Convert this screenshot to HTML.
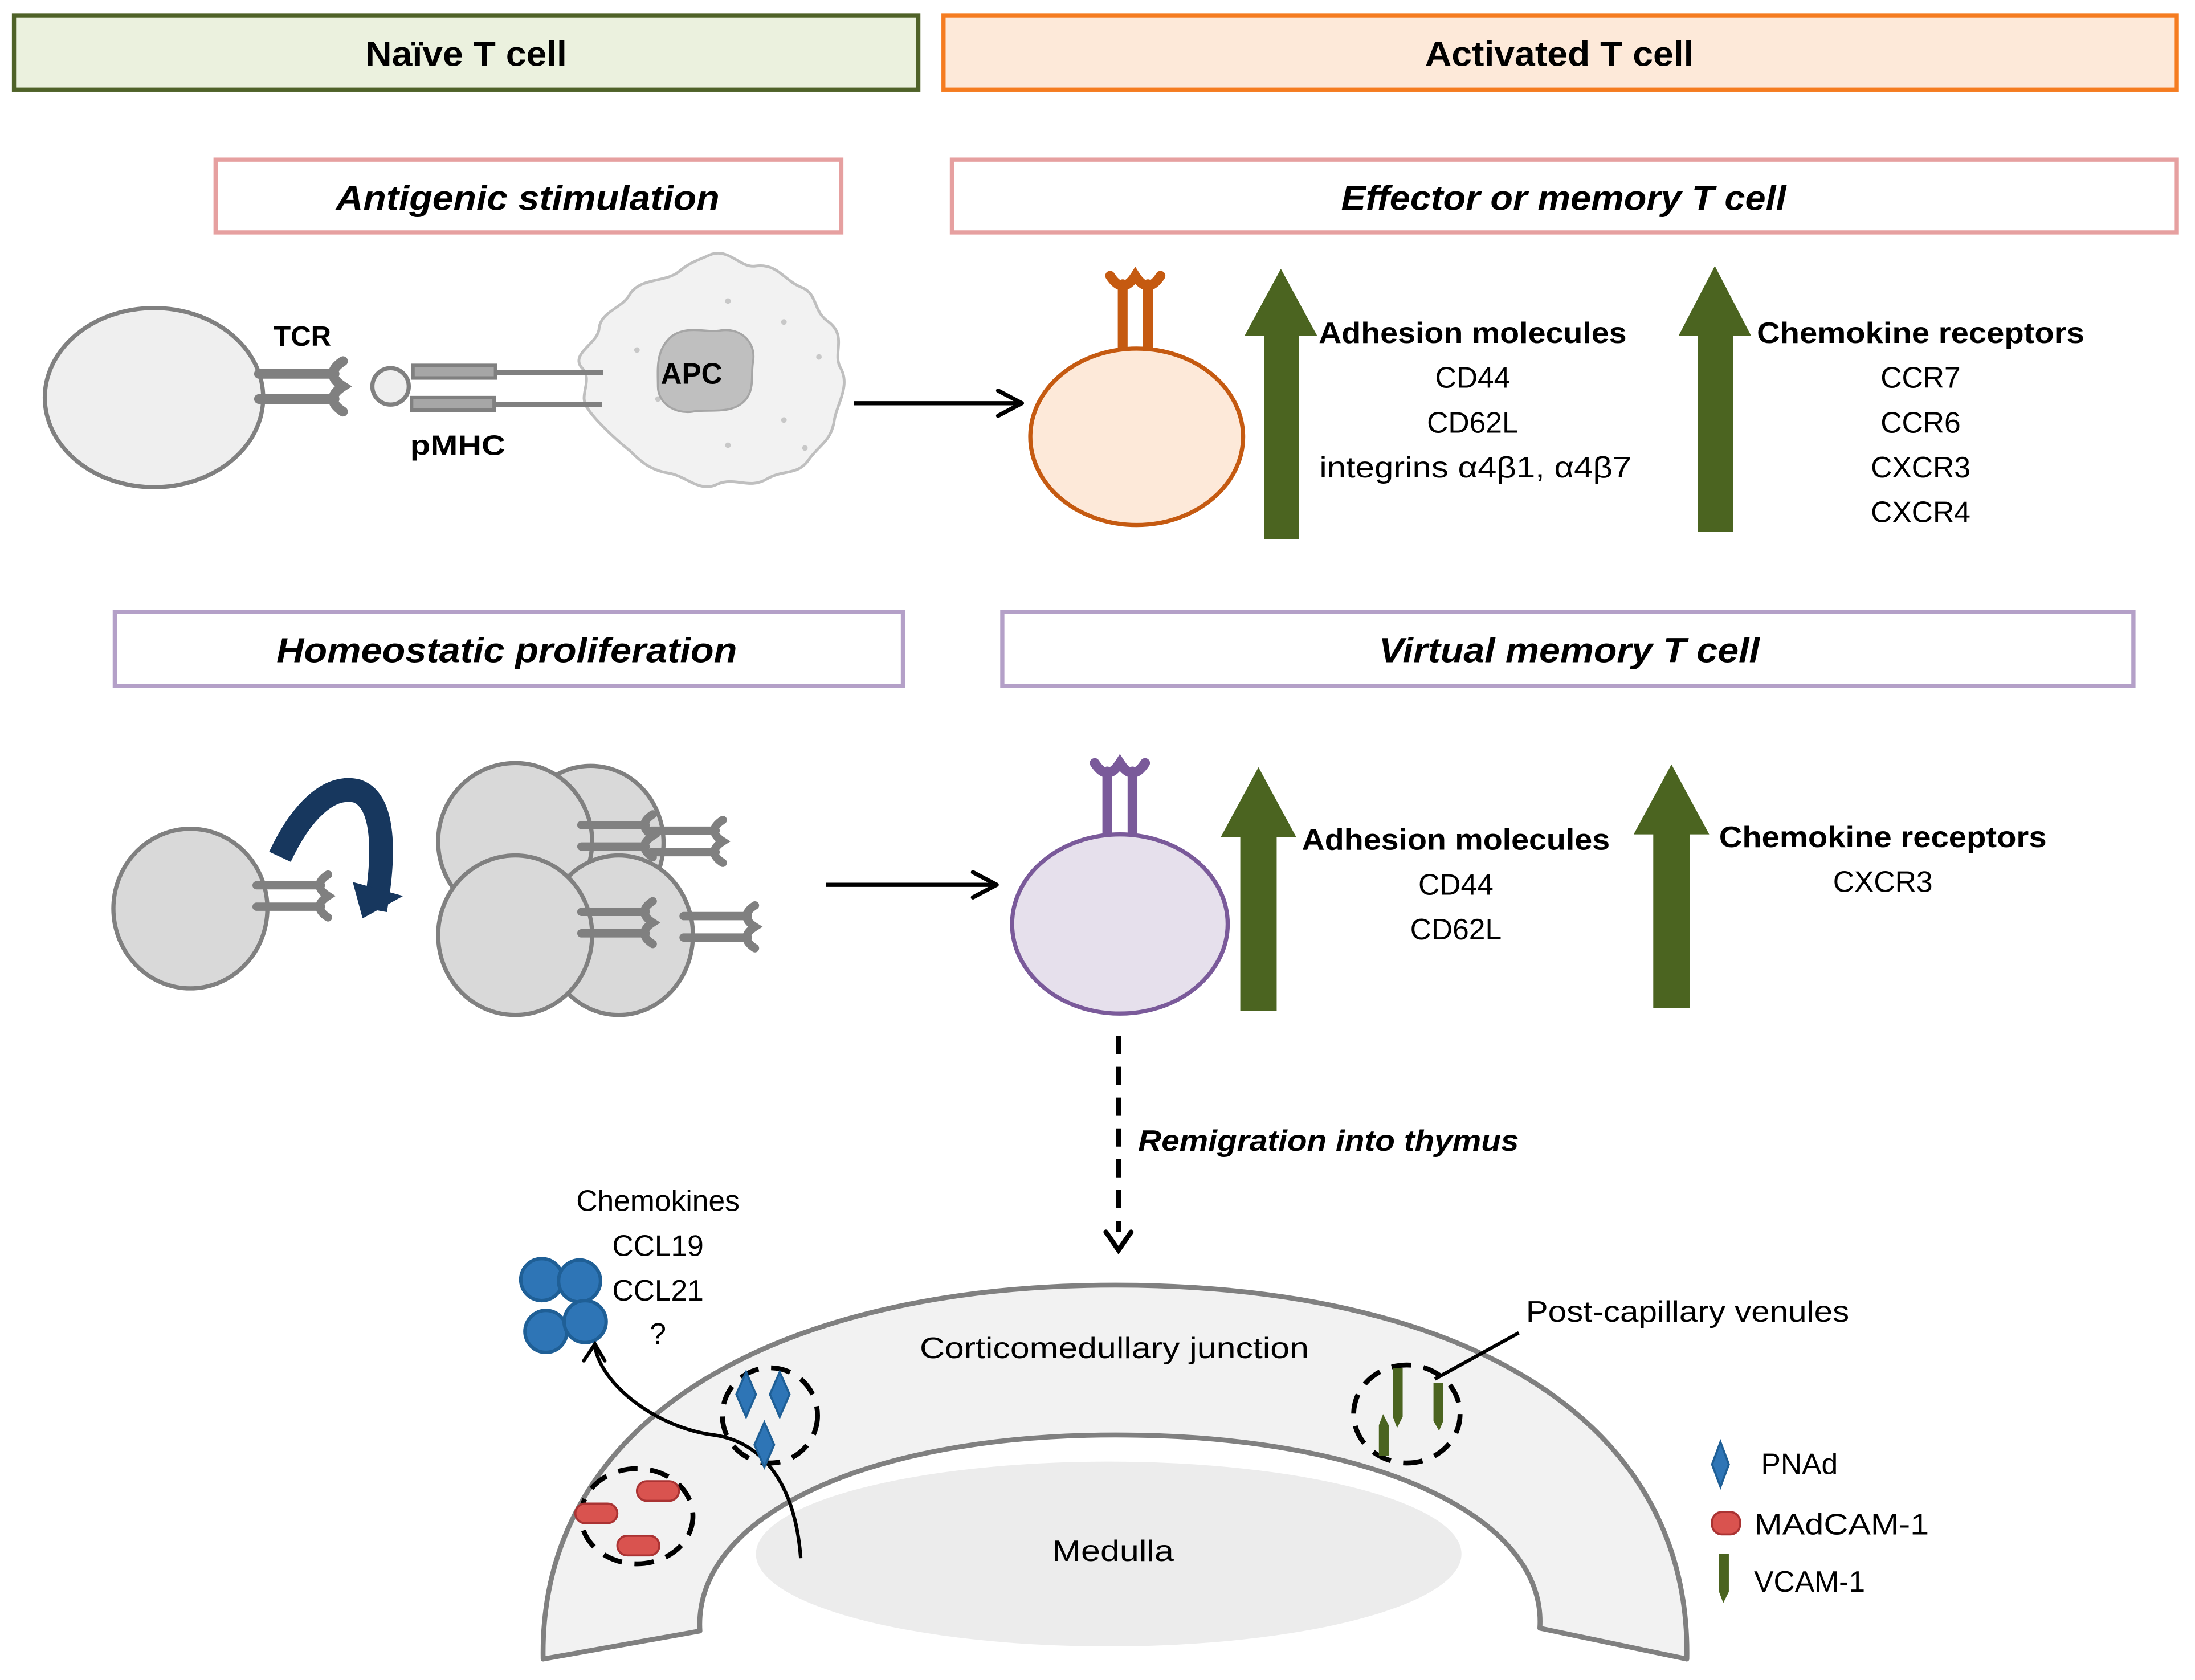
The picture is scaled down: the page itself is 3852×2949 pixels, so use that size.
<!DOCTYPE html>
<html><head><meta charset="utf-8"><style>
html,body{margin:0;padding:0;background:#fff}
svg{display:block}
text{font-family:"Liberation Sans",sans-serif;fill:#000}
.b{font-weight:bold}
.bi{font-weight:bold;font-style:italic}
</style></head><body>
<svg width="3852" height="2949" viewBox="0 0 1568 1200" preserveAspectRatio="none" xmlns="http://www.w3.org/2000/svg">
<defs>
<g id="rc">
 <path d="M-9 8 L-9 62 M9 8 L9 62" stroke-width="7" stroke-linecap="round" fill="none"/>
 <path d="M-18 2 Q-9 16 0 2 Q9 16 18 2" stroke-width="7" stroke-linecap="round" fill="none"/>
</g>
</defs>

<rect x="10" y="11" width="646" height="53" fill="#ebf1de" stroke="#4f6228" stroke-width="3"/>
<text x="333" y="47" text-anchor="middle" class="b" font-size="25" textLength="144" lengthAdjust="spacingAndGlyphs">Naïve T cell</text>
<rect x="674" y="11" width="881" height="53" fill="#fde9d9" stroke="#f57c20" stroke-width="3"/>
<text x="1114" y="47" text-anchor="middle" class="b" font-size="25" textLength="192" lengthAdjust="spacingAndGlyphs">Activated T cell</text>

<rect x="154" y="114" width="447" height="52" fill="#fff" stroke="#e6a0a0" stroke-width="3"/>
<text x="377" y="150" text-anchor="middle" class="bi" font-size="25" textLength="274" lengthAdjust="spacingAndGlyphs">Antigenic stimulation</text>
<rect x="680" y="114" width="875" height="52" fill="#fff" stroke="#e6a0a0" stroke-width="3"/>
<text x="1117" y="150" text-anchor="middle" class="bi" font-size="25" textLength="318" lengthAdjust="spacingAndGlyphs">Effector or memory T cell</text>

<rect x="82" y="437" width="563" height="53" fill="#fff" stroke="#b4a0c8" stroke-width="3"/>
<text x="362" y="473" text-anchor="middle" class="bi" font-size="25" textLength="329" lengthAdjust="spacingAndGlyphs">Homeostatic proliferation</text>
<rect x="716" y="437" width="808" height="53" fill="#fff" stroke="#b4a0c8" stroke-width="3"/>
<text x="1121" y="473" text-anchor="middle" class="bi" font-size="25" textLength="272" lengthAdjust="spacingAndGlyphs">Virtual memory T cell</text>

<ellipse cx="110" cy="284" rx="78" ry="64" fill="#efefef" stroke="#808080" stroke-width="3"/>
<use href="#rc" transform="translate(247,276) rotate(90)" stroke="#808080"/>
<text x="216" y="247" text-anchor="middle" class="b" font-size="20" textLength="41" lengthAdjust="spacingAndGlyphs">TCR</text>
<path d="M505 183 C520 175 528 192 540 190 C555 188 560 200 572 205 C585 210 580 222 592 230 C605 240 595 252 600 262 C608 275 598 288 596 300 C594 315 585 318 578 328 C570 340 560 335 548 342 C535 350 525 340 512 346 C500 352 490 340 478 338 C465 336 458 330 450 322 C440 314 425 300 420 292 C412 282 425 272 415 262 C408 252 428 245 428 234 C430 222 445 220 450 210 C458 198 475 202 485 194 C492 188 498 186 505 183 Z" fill="#f2f2f2" stroke="#bfbfbf" stroke-width="2"/>
<g fill="#c8c8c8"><circle cx="520" cy="215" r="2"/><circle cx="560" cy="230" r="2"/><circle cx="585" cy="255" r="2"/><circle cx="470" cy="285" r="2"/><circle cx="520" cy="318" r="2"/><circle cx="560" cy="300" r="2"/><circle cx="455" cy="250" r="2"/><circle cx="575" cy="320" r="2"/></g>
<path d="M480 240 C492 232 505 238 515 236 C530 234 540 245 538 258 C536 268 540 280 530 288 C520 296 505 292 495 294 C482 296 470 288 470 276 C470 264 468 250 480 240 Z" fill="#bfbfbf" stroke="#a6a6a6" stroke-width="1.5"/>
<text x="494" y="274" text-anchor="middle" class="b" font-size="21" textLength="44" lengthAdjust="spacingAndGlyphs">APC</text>
<circle cx="279" cy="276" r="13" fill="#efefef" stroke="#808080" stroke-width="3"/>
<rect x="295" y="261" width="59" height="9" fill="#a6a6a6" stroke="#808080" stroke-width="2.5"/>
<rect x="294" y="284" width="59" height="9" fill="#a6a6a6" stroke="#808080" stroke-width="2.5"/>
<path d="M354 266 L431 266 M353 289 L430 289" stroke="#808080" stroke-width="3.5"/>
<text x="327" y="325" text-anchor="middle" class="b" font-size="20" textLength="68" lengthAdjust="spacingAndGlyphs">pMHC</text>

<path d="M610 288 L728 288" stroke="#000" stroke-width="3"/>
<path d="M713 279 L730 288 L713 297" stroke="#000" stroke-width="3" fill="none" stroke-linecap="round" stroke-linejoin="round"/>

<use href="#rc" transform="translate(811,195)" stroke="#c55a11"/>
<ellipse cx="812" cy="312" rx="76" ry="63" fill="#fde9d9" stroke="#c55a11" stroke-width="3"/>

<path d="M903 385 L903 240 L889 240 L915 192 L941 240 L928 240 L928 385 Z" fill="#4b6420"/>
<path d="M1213 380 L1213 240 L1199 240 L1225 190 L1251 240 L1238 240 L1238 380 Z" fill="#4b6420"/>
<g font-size="21" text-anchor="middle">
<text x="1052" y="245" class="b" textLength="220" lengthAdjust="spacingAndGlyphs">Adhesion molecules</text>
<text x="1052" y="277">CD44</text>
<text x="1052" y="309">CD62L</text>
<text x="1054" y="341" textLength="223" lengthAdjust="spacingAndGlyphs">integrins α4β1, α4β7</text>
<text x="1372" y="245" class="b" textLength="234" lengthAdjust="spacingAndGlyphs">Chemokine receptors</text>
<text x="1372" y="277">CCR7</text>
<text x="1372" y="309">CCR6</text>
<text x="1372" y="341">CXCR3</text>
<text x="1372" y="373">CXCR4</text>
</g>

<ellipse cx="136" cy="649" rx="55" ry="57" fill="#d9d9d9" stroke="#808080" stroke-width="3"/>
<use href="#rc" transform="translate(236,640) rotate(90) scale(0.85)" stroke="#808080"/>
<path d="M200 612 C215 580 235 560 255 565 C275 572 275 610 268 650" stroke="#17375e" stroke-width="17" fill="none"/>
<path d="M252 630 L288 640 L259 656 Z" fill="#17375e"/>

<ellipse cx="422" cy="602" rx="52" ry="55" fill="#d9d9d9" stroke="#808080" stroke-width="3"/>
<ellipse cx="368" cy="601" rx="55" ry="56" fill="#d9d9d9" stroke="#808080" stroke-width="3"/>
<use href="#rc" transform="translate(468,597) rotate(90) scale(0.85)" stroke="#808080"/>
<use href="#rc" transform="translate(518,601) rotate(90) scale(0.85)" stroke="#808080"/>
<ellipse cx="442" cy="668" rx="53" ry="57" fill="#d9d9d9" stroke="#808080" stroke-width="3"/>
<ellipse cx="368" cy="668" rx="55" ry="57" fill="#d9d9d9" stroke="#808080" stroke-width="3"/>
<use href="#rc" transform="translate(468,659) rotate(90) scale(0.85)" stroke="#808080"/>
<use href="#rc" transform="translate(541,662) rotate(90) scale(0.85)" stroke="#808080"/>

<path d="M590 632 L710 632" stroke="#000" stroke-width="3"/>
<path d="M695 623 L712 632 L695 641" stroke="#000" stroke-width="3" fill="none" stroke-linecap="round" stroke-linejoin="round"/>

<use href="#rc" transform="translate(800,543)" stroke="#7a5a9a"/>
<ellipse cx="800" cy="660" rx="77" ry="64" fill="#e6e0ec" stroke="#7a5a9a" stroke-width="3"/>

<path d="M886 722 L886 598 L872 598 L899 548 L926 598 L912 598 L912 722 Z" fill="#4b6420"/>
<path d="M1181 720 L1181 596 L1167 596 L1194 546 L1221 596 L1207 596 L1207 720 Z" fill="#4b6420"/>
<g font-size="21" text-anchor="middle">
<text x="1040" y="607" class="b" textLength="220" lengthAdjust="spacingAndGlyphs">Adhesion molecules</text>
<text x="1040" y="639">CD44</text>
<text x="1040" y="671">CD62L</text>
<text x="1345" y="605" class="b" textLength="234" lengthAdjust="spacingAndGlyphs">Chemokine receptors</text>
<text x="1345" y="637">CXCR3</text>
</g>

<path d="M799 740 L799 880" stroke="#000" stroke-width="3.5" stroke-dasharray="13,9"/>
<path d="M790 880 L799 893 L808 880" stroke="#000" stroke-width="3.5" fill="none" stroke-linecap="round"/>
<text x="813" y="822" class="bi" font-size="21" textLength="272" lengthAdjust="spacingAndGlyphs">Remigration into thymus</text>

<ellipse cx="792" cy="1110" rx="252" ry="66" fill="#ececec"/>
<path d="M388 1185 C385 1010 560 918 797 918 C1040 918 1208 1010 1205 1185 L1100 1163 C1105 1085 985 1025 797 1025 C615 1025 495 1085 500 1165 Z" fill="#f2f2f2" stroke="#808080" stroke-width="3.5" stroke-linejoin="round"/>
<text x="796" y="970" text-anchor="middle" font-size="21" textLength="278" lengthAdjust="spacingAndGlyphs">Corticomedullary junction</text>
<text x="795" y="1115" text-anchor="middle" font-size="21" textLength="87" lengthAdjust="spacingAndGlyphs">Medulla</text>

<g fill="#2e75b6" stroke="#1f5f96" stroke-width="2.5">
<circle cx="387" cy="914" r="15"/><circle cx="414" cy="915" r="15"/>
<circle cx="390" cy="951" r="15"/><circle cx="418" cy="944" r="15"/>
</g>
<g font-size="21" text-anchor="middle">
<text x="470" y="865">Chemokines</text>
<text x="470" y="897">CCL19</text>
<text x="470" y="929">CCL21</text>
<text x="470" y="960">?</text>
</g>
<path d="M572 1113 C568 1060 545 1030 510 1025 C470 1020 430 990 425 962" stroke="#000" stroke-width="2.5" fill="none"/>
<path d="M417 972 L425 960 L432 972" stroke="#000" stroke-width="2.5" fill="none" stroke-linecap="round"/>

<g fill="none" stroke="#000" stroke-width="3.5" stroke-dasharray="14,9">
<ellipse cx="550" cy="1011" rx="34" ry="34"/>
<ellipse cx="455" cy="1083" rx="40" ry="34"/>
<ellipse cx="1005" cy="1010" rx="38" ry="35"/>
</g>
<g fill="#2e75b6" stroke="#1f5f96" stroke-width="1.5">
<path d="M533 980 L540 996 L533 1012 L526 996 Z"/>
<path d="M557 980 L564 996 L557 1012 L550 996 Z"/>
<path d="M546 1016 L553 1032 L546 1048 L539 1032 Z"/>
<path d="M1229 1030 L1235 1046 L1229 1062 L1223 1046 Z"/>
</g>
<g fill="#d9534f" stroke="#a33" stroke-width="1.5">
<rect x="455" y="1058" width="30" height="14" rx="7"/>
<rect x="411" y="1074" width="30" height="14" rx="7"/>
<rect x="441" y="1097" width="30" height="14" rx="7"/>
<rect x="1223" y="1080" width="20" height="16" rx="7"/>
</g>
<g fill="#4b6420">
<path d="M995 977 L1002 977 L1002 1012 L998 1020 L995 1012 Z"/>
<path d="M1024 988 L1031 988 L1031 1015 L1028 1022 L1024 1015 Z"/>
<path d="M985 1018 L988 1010 L992 1018 L992 1040 L985 1040 Z"/>
<path d="M1228 1110 L1235 1110 L1235 1137 L1231 1145 L1228 1137 Z"/>
</g>
<path d="M1085 952 L1025 985" stroke="#000" stroke-width="2.5"/>
<text x="1090" y="944" font-size="21" textLength="231" lengthAdjust="spacingAndGlyphs">Post-capillary venules</text>
<g font-size="21">
<text x="1258" y="1053">PNAd</text>
<text x="1253" y="1096" textLength="125" lengthAdjust="spacingAndGlyphs">MAdCAM-1</text>
<text x="1253" y="1137">VCAM-1</text>
</g>
</svg>
</body></html>
